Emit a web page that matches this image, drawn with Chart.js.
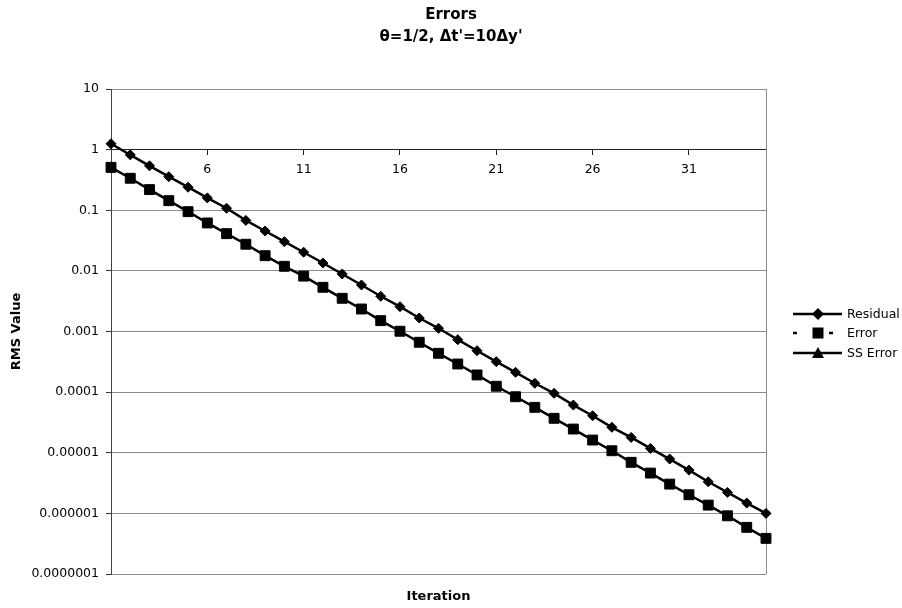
<!DOCTYPE html>
<html>
<head>
<meta charset="utf-8">
<title>Errors</title>
<script src="https://cdn.jsdelivr.net/npm/chart.js@4.4.1/dist/chart.umd.min.js"></script>
<style>
  body { margin: 0; background: #fff; }
  #wrap { width: 902px; height: 608px; }
</style>
</head>
<body>
<div id="wrap"><canvas id="errChart" width="902" height="608"></canvas></div>
<script>
const iterasi = [1, 2, 3, 4, 5, 6, 7, 8, 9, 10, 11, 12, 13, 14, 15, 16, 17, 18, 19, 20,
  21, 22, 23, 24, 25, 26, 27, 28, 29, 30, 31, 32, 33, 34, 35];

const residual = [1.25, 0.82, 0.54, 0.358, 0.24, 0.16, 0.108, 0.068, 0.0455, 0.0303,
  0.0203, 0.0135, 0.00889, 0.00585, 0.00381, 0.00257, 0.00167, 0.00113, 0.000733, 0.000482,
  0.000318, 0.000212, 0.00014, 0.0000955, 0.0000612, 0.0000408, 0.0000263, 0.0000179, 0.0000118, 0.00000787,
  0.00000518, 0.00000332, 0.00000222, 0.00000148, 0.000001];

const errorRms = [0.51, 0.337, 0.219, 0.144, 0.0948, 0.0617, 0.0411, 0.0275, 0.0178, 0.0119,
  0.0082, 0.00536, 0.00353, 0.00235, 0.00151, 0.00101, 0.000664, 0.000437, 0.000291, 0.000192,
  0.000125, 0.0000839, 0.0000561, 0.000037, 0.0000246, 0.0000162, 0.0000108, 0.00000695, 0.00000462, 0.00000304,
  0.00000203, 0.00000137, 0.000000912, 0.000000588, 0.000000387];

// steady-state error has no points on the log axis, only its legend entry
const ssError = [];

const yTicks = [0.0000001, 0.000001, 0.00001, 0.0001, 0.001, 0.01, 0.1, 1, 10];
const yTickLabels = ["0.0000001", "0.000001", "0.00001", "0.0001", "0.001", "0.01", "0.1", "1", "10"];

const judul = ["Errors", "θ=1/2, Δt'=10Δy'"];

const FONT = "'DejaVu Sans', Verdana, sans-serif";
Chart.defaults.font.family = FONT;
Chart.defaults.color = "#000";

function gambarMarker(ctx, style, x, y) {
  ctx.beginPath();
  if (style === "rectRot") {
    const r = 6;
    ctx.moveTo(x, y - r); ctx.lineTo(x + r, y); ctx.lineTo(x, y + r); ctx.lineTo(x - r, y);
  } else if (style === "rect") {
    ctx.rect(x - 5.5, y - 5.5, 11, 11);
  } else if (style === "triangle") {
    ctx.moveTo(x, y - 6); ctx.lineTo(x + 6, y + 5); ctx.lineTo(x - 6, y + 5);
  }
  ctx.closePath();
  ctx.fill();
}

// title over the whole canvas, right frame line, axis title under the plot, side legend
const hiasan = {
  id: "hiasan",
  beforeDatasetsDraw(chart) {
    const { ctx, chartArea } = chart;
    ctx.save();
    ctx.strokeStyle = "#8c8c8c";
    ctx.lineWidth = 1;
    ctx.beginPath();
    ctx.moveTo(Math.round(chartArea.right) + 0.5, chartArea.top);
    ctx.lineTo(Math.round(chartArea.right) + 0.5, chartArea.bottom);
    ctx.stroke();
    ctx.restore();
  },
  afterDraw(chart) {
    const { ctx, chartArea } = chart;
    ctx.save();
    ctx.fillStyle = "#000";
    ctx.textAlign = "center";
    ctx.textBaseline = "middle";

    ctx.font = "bold 15px " + FONT;
    judul.forEach((t, i) => ctx.fillText(t, chart.width / 2, 15.5 + i * 22));

    ctx.font = "bold 13px " + FONT;
    ctx.fillText("Iteration", (chartArea.left + chartArea.right) / 2, 597);

    const x0 = chartArea.right + 27;
    const baris = [314, 333, 353];
    chart.data.datasets.forEach((ds, i) => {
      const y = baris[i];
      ctx.strokeStyle = "#000";
      ctx.fillStyle = "#000";
      ctx.lineWidth = 2.5;
      ctx.setLineDash(ds.legendDash || []);
      ctx.beginPath();
      ctx.moveTo(x0, y);
      ctx.lineTo(x0 + 49, y);
      ctx.stroke();
      ctx.setLineDash([]);
      gambarMarker(ctx, ds.pointStyle, x0 + 25, y);
      ctx.font = "12.5px " + FONT;
      ctx.textAlign = "left";
      ctx.fillText(ds.label, x0 + 54, y + 1);
    });
    ctx.restore();
  }
};

const ctx = document.getElementById("errChart").getContext("2d");
const chart = new Chart(ctx, {
  type: "line",
  data: {
    labels: iterasi,
    datasets: [
      {
        label: "Residual",
        data: residual,
        borderColor: "#000",
        backgroundColor: "#000",
        borderWidth: 2.5,
        pointStyle: "rectRot",
        pointRadius: 5,
        pointBorderWidth: 1,
        tension: 0,
        clip: false
      },
      {
        label: "Error",
        data: errorRms,
        borderColor: "#000",
        backgroundColor: "#000",
        borderWidth: 2.5,
        pointStyle: "rect",
        pointRadius: 7,
        pointBorderWidth: 1,
        tension: 0,
        clip: false,
        legendDash: [4, 32]
      },
      {
        label: "SS Error",
        data: ssError,
        borderColor: "#000",
        backgroundColor: "#000",
        borderWidth: 2.5,
        pointStyle: "triangle",
        pointRadius: 6,
        clip: false
      }
    ]
  },
  options: {
    responsive: false,
    animation: false,
    layout: { padding: { top: 89, right: 136, bottom: 34, left: 0 } },
    plugins: {
      legend: { display: false },
      tooltip: { enabled: false },
      title: { display: false }
    },
    scales: {
      y: {
        type: "logarithmic",
        min: 0.0000001,
        max: 10,
        afterFit(scale) { scale.width = 111; },
        afterBuildTicks(scale) {
          scale.ticks = yTicks.map(v => ({ value: v }));
        },
        ticks: {
          font: { size: 12.5 },
          color: "#000",
          padding: 7,
          callback: (value) => yTickLabels[yTicks.indexOf(value)]
        },
        grid: {
          color: "#8c8c8c",
          lineWidth: 1,
          tickLength: 5,
          tickColor: "#333"
        },
        border: { display: true, color: "#444", width: 1 },
        title: {
          display: true,
          text: "RMS Value",
          font: { size: 13, weight: "bold" },
          color: "#000",
          padding: { top: 9, bottom: 0 }
        }
      },
      x: {
        type: "category",
        position: { y: 1 },
        offset: false,
        ticks: {
          autoSkip: false,
          maxRotation: 0,
          font: { size: 12.5 },
          color: "#000",
          padding: 8,
          callback: (val, i) => (i % 5 === 0 ? String(iterasi[i]) : "")
        },
        grid: {
          drawOnChartArea: false,
          drawTicks: true,
          tickLength: 5,
          tickColor: (c) => (c.index % 5 === 0 ? "#222" : "rgba(0,0,0,0)")
        },
        border: { display: true, color: "#222", width: 1 }
      }
    }
  },
  plugins: [hiasan]
});
</script>
</body>
</html>
